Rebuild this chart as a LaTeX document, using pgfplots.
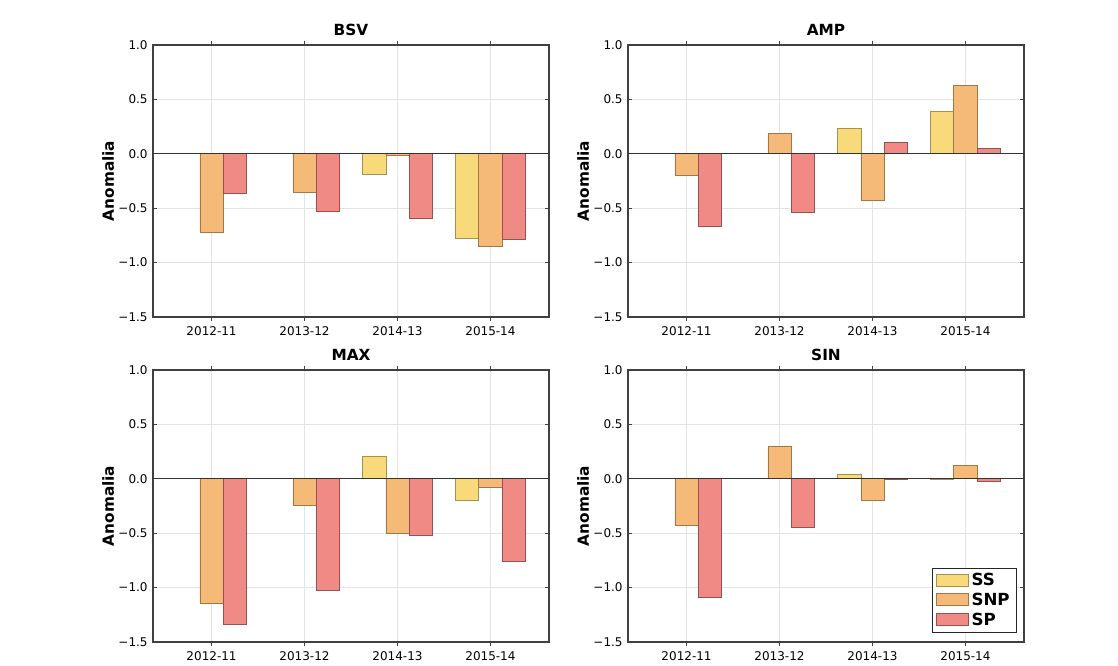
\documentclass[border=0pt]{standalone}
\usepackage{fontspec}
\setmainfont{DejaVu Sans}
\usepackage{pgfplots}
\usepackage{pgfplotstable}
\pgfplotsset{compat=1.18}

\definecolor{ssc}{HTML}{F9DA7A}
\definecolor{snpc}{HTML}{F6BA78}
\definecolor{spc}{HTML}{F08A85}
\definecolor{ssd}{HTML}{A89050}
\definecolor{snpd}{HTML}{A07848}
\definecolor{spd}{HTML}{985050}

\pgfplotstableread{
x ss snp sp
0 0.0 -0.72 -0.36
1 0.0 -0.35 -0.53
2 -0.185 -0.01 -0.59
3 -0.78 -0.855 -0.785
}\bsv
\pgfplotstableread{
x ss snp sp
0 0.0 -0.20 -0.67
1 0.0 0.185 -0.54
2 0.23 -0.425 0.105
3 0.39 0.63 0.05
}\amp
\pgfplotstableread{
x ss snp sp
0 0.0 -1.14 -1.34
1 0.0 -0.24 -1.025
2 0.205 -0.50 -0.52
3 -0.195 -0.075 -0.755
}\maxt
\pgfplotstableread{
x ss snp sp
0 0.0 -0.43 -1.085
1 0.0 0.295 -0.45
2 0.045 -0.20 -0.005
3 -0.005 0.125 -0.025
}\sint

\pgfplotsset{
  myax/.style={
    scale only axis,
    width=297pt, height=204pt,
    anchor=south west,
    xmin=-0.63, xmax=3.63,
    ymin=-1.5, ymax=1.0,
    xtick={0,1,2,3},
    xticklabels={2012-11,2013-12,2014-13,2015-14},
    ytick={-1.5,-1,-0.5,0,0.5,1},
    yticklabels={−1.5,−1.0,−0.5,0.0,0.5,1.0},
    tick label style={font=\fontsize{9}{10}\selectfont},
    xticklabel style={yshift=-0.5pt},
    yticklabel style={xshift=-0.5pt},
    grid=major,
    major grid style={gray!22, line width=0.5pt},
    axis line style={black!75, line width=0.8pt},
    tick style={black!75, line width=0.5pt},
    major tick length=3pt,
    tick align=inside,
    title style={font=\bfseries\fontsize{11.5}{13}\selectfont, at={(0.5,1)}, anchor=south, inner sep=1pt},
    ylabel={Anomalia},
    ylabel style={font=\bfseries\fontsize{11.5}{13}\selectfont, at={(axis description cs:-0.113,0.5)}, anchor=center},
    ybar, bar width=0.25,
  },
  ssb/.style={fill=ssc, draw=ssd, line width=0.5pt, bar shift=-0.25},
  snpb/.style={fill=snpc, draw=snpd, line width=0.5pt, bar shift=0},
  spb/.style={fill=spc, draw=spd, line width=0.5pt, bar shift=0.25},
}

\begin{document}
\begin{tikzpicture}
\useasboundingbox (0,0) rectangle (838.5pt,498.75pt);

\begin{axis}[myax, at={(114.75pt,261pt)}, title={BSV}]
\addplot[ssb] table[x=x,y=ss]{\bsv};
\addplot[snpb] table[x=x,y=snp]{\bsv};
\addplot[spb] table[x=x,y=sp]{\bsv};
\addplot[sharp plot, black!80, line width=0.8pt, forget plot] coordinates {(-1,0) (4,0)};
\end{axis}

\begin{axis}[myax, at={(471pt,261pt)}, title={AMP}]
\addplot[ssb] table[x=x,y=ss]{\amp};
\addplot[snpb] table[x=x,y=snp]{\amp};
\addplot[spb] table[x=x,y=sp]{\amp};
\addplot[sharp plot, black!80, line width=0.8pt, forget plot] coordinates {(-1,0) (4,0)};
\end{axis}

\begin{axis}[myax, at={(114.75pt,17.25pt)}, title={MAX}]
\addplot[ssb] table[x=x,y=ss]{\maxt};
\addplot[snpb] table[x=x,y=snp]{\maxt};
\addplot[spb] table[x=x,y=sp]{\maxt};
\addplot[sharp plot, black!80, line width=0.8pt, forget plot] coordinates {(-1,0) (4,0)};
\end{axis}

\begin{axis}[myax, at={(471pt,17.25pt)}, title={SIN},
  legend style={at={(0.982,0.033)}, anchor=south east, draw=black!85, line width=0.8pt,
    font=\bfseries\fontsize{12.5}{15}\selectfont, inner xsep=3pt, inner ysep=2pt,
    cells={anchor=west}, row sep=0pt},
  legend image code/.code={\draw[#1, bar shift=0pt] (0pt,-4pt) rectangle (24pt,5pt);},
]
\addplot[ssb] table[x=x,y=ss]{\sint};
\addplot[snpb] table[x=x,y=snp]{\sint};
\addplot[spb] table[x=x,y=sp]{\sint};
\addplot[sharp plot, black!80, line width=0.8pt, forget plot] coordinates {(-1,0) (4,0)};
\legend{SS,SNP,SP}
\end{axis}
\end{tikzpicture}
\end{document}
